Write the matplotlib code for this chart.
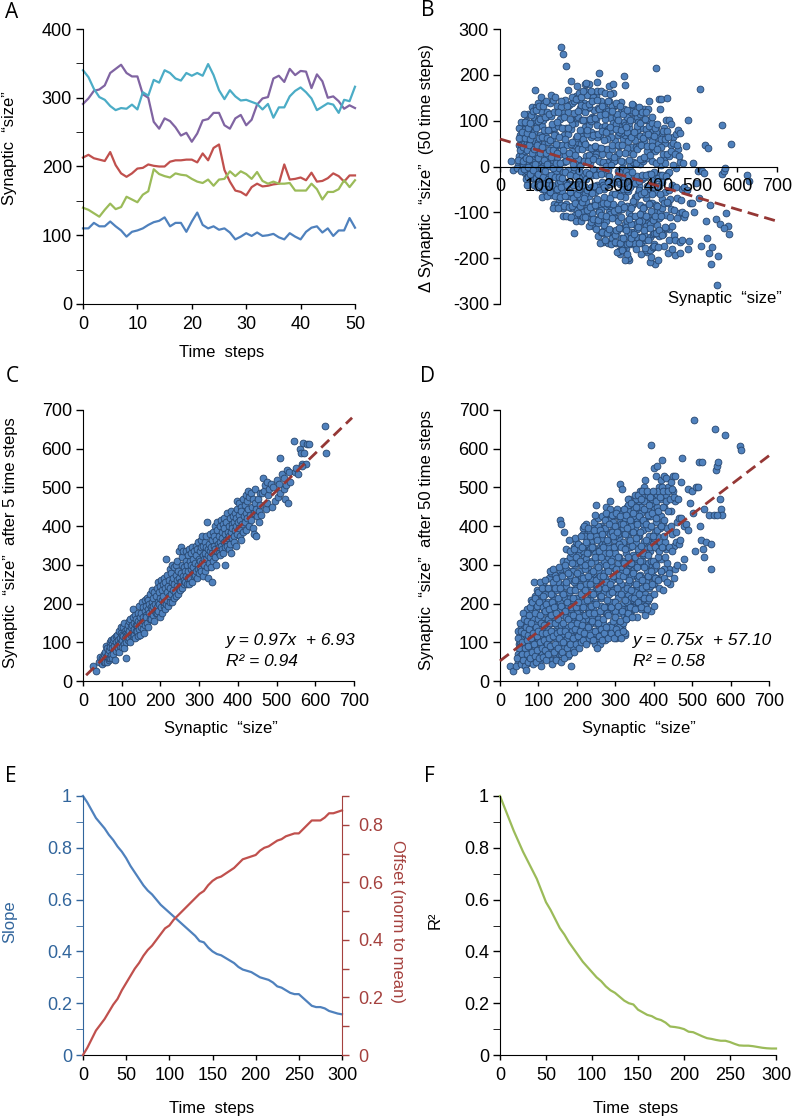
import matplotlib
matplotlib.use("Agg")
import matplotlib.pyplot as plt
from matplotlib.ticker import MultipleLocator

plt.rcParams["font.family"] = ["Liberation Sans", "DejaVu Sans"]
plt.rcParams["font.size"] = 12
plt.rcParams["axes.unicode_minus"] = False

W, H = 793, 1120

# panel A, five example synapses
steps_a = list(range(51))
syn_blue = [110,110,118,113,113,120,113,107,98,105,107,110,115,119,121,126,113,118,118,105,120,133,115,110,113,108,110,104,94,98,103,99,104,99,100,102,97,94,103,98,94,105,111,113,104,110,99,107,107,125,111]
syn_red = [213,217,212,210,208,221,202,190,185,190,197,198,203,201,200,200,207,209,209,210,210,206,219,209,227,232,195,178,165,163,158,170,175,171,172,174,175,203,181,182,184,180,191,178,179,183,190,186,178,187,187]
syn_green = [140,137,132,127,137,146,138,141,156,152,148,159,164,196,189,186,184,190,188,187,182,178,176,181,172,181,182,193,186,193,189,182,192,179,175,178,175,175,176,165,165,165,175,167,152,163,163,167,180,170,180]
syn_purple = [291,299,310,312,318,336,342,348,336,331,331,305,300,265,255,270,266,257,245,249,236,248,267,269,278,278,260,255,270,275,260,268,290,299,301,328,332,323,342,333,339,338,314,334,324,300,302,295,284,289,285]
syn_aqua = [340,330,313,301,297,288,282,285,284,290,283,308,303,326,322,340,336,328,325,336,332,336,332,349,333,311,298,311,302,296,297,294,291,283,291,271,286,286,302,310,315,308,299,282,287,292,290,278,297,295,316]

# panels B, C, D share the same synapses, delta in B is after_50 - start_size
start_size = [
    27,33,42,45,48,50,52,54,55,57,58,60,
    61,62,63,65,66,67,68,69,70,71,72,73,
    74,75,76,77,78,80,81,83,84,85,86,88,
    89,90,91,92,93,94,95,96,97,98,99,100,
    101,102,103,104,105,106,107,108,109,110,111,112,
    113,114,115,116,117,118,119,120,121,122,124,125,
    126,127,128,129,130,131,132,133,134,135,136,137,
    138,139,140,141,142,143,144,145,146,147,148,150,
    151,152,153,154,155,156,157,158,159,160,161,162,
    163,164,165,166,167,168,169,170,171,172,174,175,
    176,177,178,179,180,181,182,183,184,185,186,188,
    189,190,191,192,193,194,195,196,197,198,199,200,
    201,202,203,204,205,206,207,208,209,210,211,212,
    213,214,215,216,217,218,219,220,221,222,224,225,
    226,227,228,229,230,231,232,233,234,235,236,238,
    239,240,241,242,243,244,245,246,247,248,249,250,
    251,252,253,254,255,256,257,258,259,260,261,262,
    263,264,265,266,267,268,269,270,271,272,274,275,
    276,277,278,279,280,281,282,283,284,285,286,288,
    289,290,291,292,293,294,295,296,297,298,299,300,
    301,302,303,304,305,306,307,308,309,310,311,312,
    313,314,315,316,317,318,319,320,321,322,323,324,
    325,326,327,328,329,330,331,332,333,334,335,337,
    338,339,340,341,342,343,344,345,346,347,348,350,
    351,352,353,354,355,356,357,358,359,360,361,362,
    363,364,365,366,367,368,369,370,371,372,374,375,
    376,377,378,379,380,381,382,383,384,385,386,388,
    389,390,391,392,393,394,395,396,397,398,399,400,
    402,403,404,405,406,407,408,409,410,412,414,416,
    418,419,420,421,422,423,424,425,426,428,430,432,
    433,434,436,438,440,441,442,444,445,447,448,450,
    452,454,455,456,458,460,462,465,468,470,472,474,
    475,478,480,485,488,490,495,500,503,505,508,510,
    515,518,520,522,525,528,530,532,535,545,548,550,
    556,560,562,565,568,572,575,578,585,625,628,565,
]
after_50 = [
    40,26,38,60,110,85,150,45,130,70,100,175,
    55,125,160,38,85,140,28,105,70,155,50,120,
    90,170,135,60,190,110,150,75,205,45,125,255,
    95,175,65,215,140,50,195,115,80,160,230,130,
    60,205,100,255,170,40,150,85,240,125,190,62,
    220,105,145,80,260,180,55,125,200,95,160,240,
    70,185,110,285,150,90,225,130,170,45,205,255,
    115,290,75,190,150,240,95,175,55,265,125,215,
    85,160,295,110,415,130,240,50,405,195,270,75,
    150,225,100,385,60,180,300,130,255,340,85,205,
    120,280,160,365,70,235,95,335,190,145,40,305,
    215,110,170,340,75,260,135,235,95,320,190,150,
    280,115,205,355,85,165,245,130,310,375,100,225,
    145,345,105,265,190,400,125,300,170,235,360,95,
    210,330,140,270,395,110,175,375,250,120,305,195,
    345,155,285,105,225,390,175,430,130,320,260,455,
    200,365,85,295,150,240,335,115,390,180,270,135,
    320,220,105,380,160,270,345,190,125,415,240,300,
    140,435,210,365,110,285,170,330,405,250,465,190,
    310,125,230,430,155,375,270,110,345,205,400,165,
    290,435,135,240,385,195,320,125,355,275,425,155,
    510,225,110,345,495,180,405,270,130,445,305,380,
    210,340,160,430,285,395,240,175,320,470,260,365,
    190,415,305,460,235,350,165,280,435,385,215,480,
    320,185,370,250,450,295,405,205,340,480,270,425,
    225,385,310,470,190,350,260,490,415,330,445,215,
    295,520,170,405,245,365,185,490,325,430,270,455,
    215,345,475,285,400,610,250,435,310,490,375,225,
    550,265,345,420,465,300,555,390,260,440,335,475,
    285,520,400,570,345,450,235,490,375,530,320,465,
    525,255,440,490,345,280,470,400,515,335,495,530,
    475,265,290,530,385,300,470,355,365,515,420,575,
    295,315,400,405,495,390,460,490,435,675,335,500,
    500,565,400,365,565,340,445,320,360,430,290,355,
    430,650,545,555,565,470,445,430,635,607,597,430,
]
after_5 = [
    40,27,48,62,45,60,58,50,70,75,50,90,
    48,85,65,70,55,80,60,100,88,60,68,105,
    95,60,85,70,105,90,112,55,78,100,115,90,
    120,85,105,95,75,130,110,90,125,100,140,88,
    120,105,140,115,95,150,85,130,110,125,100,60,
    135,120,105,145,125,110,155,130,100,160,140,120,
    145,125,185,115,165,135,120,150,110,170,130,145,
    160,130,145,115,175,155,135,195,120,165,150,140,
    175,150,205,135,165,190,125,155,210,180,145,170,
    195,165,215,150,185,210,140,175,200,160,225,190,
    160,205,185,235,170,215,195,155,230,180,200,175,
    220,190,240,175,205,255,180,230,200,215,165,245,
    190,260,210,235,175,250,220,195,265,205,240,185,
    255,200,315,230,210,275,245,195,260,220,290,205,
    240,280,225,255,205,300,235,265,215,250,295,230,
    275,220,300,245,310,260,225,285,240,335,265,255,
    235,345,280,255,320,300,240,270,335,250,295,260,
    285,255,310,335,270,250,300,265,325,285,250,340,
    310,265,290,330,300,255,345,280,315,295,270,335,
    305,275,350,285,325,265,340,300,290,360,315,280,
    335,295,310,365,285,345,305,375,270,325,350,315,
    300,360,330,285,345,315,375,295,410,340,325,265,
    355,305,335,380,320,345,295,365,255,330,385,310,
    350,375,320,400,340,300,365,390,335,410,355,330,
    375,345,400,325,360,415,350,385,340,370,405,330,
    395,360,420,345,380,300,365,410,350,435,385,370,
    340,400,375,420,355,385,440,330,405,370,395,425,
    375,410,360,435,390,350,420,400,465,380,445,410,
    430,395,460,375,415,450,365,440,405,470,385,425,
    455,410,480,435,390,465,420,445,490,400,475,430,
    485,415,450,395,470,435,380,460,495,375,445,425,
    470,440,410,485,455,430,485,525,490,505,445,460,
    515,480,495,510,450,500,465,520,475,510,485,575,
    535,495,525,470,505,545,460,540,515,620,540,550,
    535,600,590,560,615,590,560,612,612,658,588,555,
]

# more of the dense cloud, used in B and D only
cloud_start = [
    46,48,49,51,52,53,55,56,58,59,47,54,
    60,61,63,64,65,66,68,69,70,72,73,74,62,67,71,75,
    76,77,78,79,80,81,82,83,84,85,86,87,88,89,90,91,
    92,93,94,95,96,97,98,99,100,101,102,103,104,105,106,107,
    108,109,110,111,112,113,114,115,116,117,118,119,120,121,122,123,
    124,125,126,127,128,129,130,131,132,133,134,135,136,137,138,139,
    140,141,142,143,144,145,146,147,148,149,150,151,152,153,154,155,
    156,157,158,159,160,161,162,163,164,165,166,167,168,169,170,171,
    172,173,174,175,176,177,178,179,180,181,182,183,184,185,186,187,
    188,189,190,191,192,193,194,195,196,197,198,199,200,201,202,203,
    204,205,206,207,208,209,210,211,212,213,214,215,216,217,218,219,
    220,221,222,223,224,225,226,227,228,229,230,231,232,233,234,235,
    236,237,238,239,240,241,242,243,244,245,246,247,248,249,250,251,
    252,253,254,255,256,257,258,259,260,261,262,263,264,265,266,267,
    268,269,270,271,272,273,274,275,276,277,278,279,280,281,282,283,
    284,285,286,287,288,289,290,291,292,293,294,295,296,297,298,299,
    300,301,302,303,304,305,306,307,308,309,310,311,312,313,314,315,
    316,317,318,319,320,321,322,323,324,325,326,327,328,329,330,331,
    332,333,334,335,336,337,338,339,340,341,342,343,344,345,346,347,
    348,349,350,351,352,353,354,355,356,357,358,359,360,361,362,363,
    364,365,366,367,368,369,370,371,372,373,374,375,376,377,378,379,
    380,381,382,383,384,385,386,387,388,389,390,391,392,393,394,396,
    398,400,402,404,406,408,410,412,414,416,418,420,401,405,409,415,
    424,428,432,436,440,444,448,452,456,460,427,435,443,451,459,465,
    180,182,184,186,188,190,192,194,196,198,200,202,204,206,208,210,
    212,214,216,218,220,222,224,226,228,230,232,234,236,238,240,242,
    244,246,248,250,252,254,256,258,260,262,264,266,268,270,272,274,
    276,278,280,282,284,286,288,290,292,294,296,298,300,302,304,306,
    308,310,312,314,316,318,320,322,324,326,328,330,332,334,336,338,
    340,342,344,346,348,350,352,354,356,358,360,362,364,366,368,370,
    372,374,376,378,380,382,384,386,388,390,392,394,396,398,400,402,
    404,406,408,410,412,414,416,418,420,422,424,426,428,430,432,434,
    195,205,215,225,235,245,255,265,275,285,295,305,315,325,335,345,
    355,365,375,385,395,300,310,320,330,340,350,360,370,380,390,400,
    190,200,210,220,230,240,250,260,270,280,290,300,310,320,330,340,
]
cloud_after_50 = [
    50,70,95,120,65,100,140,80,115,60,130,90,
    75,110,145,50,100,165,120,60,185,85,140,70,95,45,130,155,
    50,115,155,80,210,65,130,180,100,160,60,195,110,145,220,85,
    120,70,185,100,235,150,60,205,110,170,80,225,135,55,195,120,
    210,70,160,115,250,90,185,135,60,225,150,100,240,75,175,125,
    95,205,135,265,65,170,240,110,190,85,280,150,55,220,125,175,
    210,130,90,275,165,60,235,110,195,145,80,255,120,180,70,285,
    100,205,145,275,70,170,230,120,310,190,85,250,135,215,105,290,
    165,245,110,310,65,195,140,260,90,320,215,125,285,170,75,235,
    130,285,85,205,345,155,105,300,180,250,120,360,215,95,330,165,
    125,255,330,185,100,285,150,220,350,115,300,170,380,240,140,320,
    205,130,350,265,160,315,115,235,385,185,295,145,340,215,105,270,
    150,360,225,120,310,185,395,270,130,335,205,95,375,155,290,240,
    170,320,110,265,380,140,225,345,95,300,195,400,125,250,355,180,
    150,395,230,310,105,265,355,175,420,135,290,240,385,195,320,115,
    225,380,145,300,420,180,345,260,125,400,205,320,155,365,240,290,
    205,345,120,395,265,150,425,225,305,175,370,130,250,410,290,190,
    250,385,140,310,200,430,170,355,270,120,400,225,330,185,450,290,
    225,375,165,300,440,255,345,195,410,275,180,385,315,235,455,210,
    290,430,235,395,310,200,360,270,440,190,330,410,240,300,375,465,
    275,420,205,345,450,300,235,390,185,325,475,265,360,410,225,300,
    340,445,265,205,395,305,465,240,360,425,275,335,180,480,375,300,
    270,450,360,305,410,480,340,265,430,395,470,315,250,530,375,500,
    410,450,340,500,290,440,380,350,465,410,290,395,250,490,360,420,
    230,275,115,185,330,150,255,100,305,215,345,135,270,190,310,110,
    265,155,335,205,375,120,250,355,175,305,130,385,230,280,165,345,
    200,310,125,375,245,160,400,285,115,340,215,370,130,280,190,395,
    255,175,345,125,415,205,300,140,385,235,430,180,330,110,270,380,
    215,320,135,440,280,185,360,235,125,410,160,305,455,250,345,170,
    270,400,190,325,445,225,300,420,165,375,260,340,215,435,185,310,
    405,250,465,195,330,285,440,210,375,245,425,310,460,355,195,290,
    385,265,450,320,490,240,360,425,285,500,345,265,415,360,480,305,
    370,340,395,405,340,410,420,425,450,445,410,445,405,420,470,425,
    470,490,500,480,470,115,140,150,175,215,230,205,240,255,220,260,
    195,175,270,290,330,260,150,220,330,360,190,375,260,395,205,305,
]

all_start = cloud_start + start_size
all_after_50 = cloud_after_50 + after_50
delta_50 = [b - a for a, b in zip(all_start, all_after_50)]

# dashed fit lines, end points
fit_b_x = [0, 695]
fit_b_y = [60, -118]
fit_c_x = [8, 695]
fit_c_y = [15, 680]
fit_d_x = [0, 700]
fit_d_y = [52, 582]

# panels E, F, one value every 5 steps
steps_long = list(range(0, 301, 5))
slope = [1.0,.975,.945,.915,.895,.875,.85,.83,.805,.785,.76,.73,.705,.68,.655,.635,.62,.60,.58,.565,.55,.535,.52,.505,.49,.475,.46,.44,.435,.415,.40,.39,.385,.375,.365,.355,.34,.33,.325,.32,.31,.30,.295,.29,.28,.265,.26,.25,.24,.235,.235,.22,.205,.19,.185,.185,.18,.17,.165,.16,.157]
offset = [0,.025,.055,.085,.105,.125,.15,.175,.195,.225,.25,.275,.30,.32,.345,.365,.38,.40,.42,.44,.45,.47,.485,.50,.515,.53,.545,.56,.57,.59,.605,.615,.62,.63,.64,.65,.665,.68,.685,.69,.695,.71,.72,.725,.735,.745,.75,.76,.765,.77,.77,.785,.80,.815,.815,.815,.825,.84,.84,.845,.85]
r_squared = [1.0,.955,.91,.865,.825,.785,.75,.715,.68,.635,.59,.56,.525,.49,.465,.435,.41,.385,.36,.34,.32,.30,.285,.265,.25,.24,.225,.21,.2,.195,.175,.165,.155,.15,.14,.135,.125,.11,.108,.105,.1,.09,.088,.08,.072,.065,.062,.058,.055,.055,.05,.043,.037,.036,.036,.034,.031,.028,.026,.025,.025]

BLUE = "#4f81bd"
RED = "#c0504d"
GREEN = "#9bbb59"
PURPLE = "#8064a2"
AQUA = "#4bacc6"
DASH = "#953735"


def axes_px(fig, left, right, top, bottom):
    return fig.add_axes([left / W, 1 - bottom / H, (right - left) / W, (bottom - top) / H])


def label_px(fig, x, y, s, **kw):
    kw.setdefault("ha", "center")
    kw.setdefault("va", "center")
    fig.text(x / W, 1 - y / H, s, **kw)


def clean(ax):
    ax.spines["top"].set_visible(False)
    ax.spines["right"].set_visible(False)
    ax.patch.set_alpha(0)
    ax.tick_params(labelsize=13, width=1)
    ax.tick_params(axis="y", which="both", length=5, pad=3)
    ax.tick_params(axis="x", length=3.5, pad=5)


def scatter_panel(ax, x, y, fit_x, fit_y):
    ax.scatter(x, y, s=24, c=BLUE, edgecolors="#27466e", linewidths=0.6, clip_on=False)
    ax.plot(fit_x, fit_y, color=DASH, lw=2, dashes=(4, 2.2), zorder=3, clip_on=False)


fig = plt.figure(figsize=(W / 100, H / 100), dpi=100, facecolor="white")

# A
ax = axes_px(fig, 83, 355, 29, 304)
for vals, col in [(syn_blue, BLUE), (syn_red, RED), (syn_green, GREEN), (syn_purple, PURPLE), (syn_aqua, AQUA)]:
    ax.plot(steps_a, vals, color=col, lw=1.6, clip_on=False)
ax.set_xlim(0, 50)
ax.set_ylim(0, 400)
ax.xaxis.set_major_locator(MultipleLocator(10))
ax.yaxis.set_major_locator(MultipleLocator(100))
ax.yaxis.set_minor_locator(MultipleLocator(50))
clean(ax)
label_px(fig, 10, 148, "Synaptic  “size”", rotation=90)
label_px(fig, 222, 352, "Time  steps")

# B
ax = axes_px(fig, 500, 777, 29, 304)
scatter_panel(ax, all_start, delta_50, fit_b_x, fit_b_y)
ax.set_xlim(0, 700)
ax.set_ylim(-300, 300)
ax.xaxis.set_major_locator(MultipleLocator(100))
ax.yaxis.set_major_locator(MultipleLocator(100))
clean(ax)
ax.spines["bottom"].set_position(("data", 0))
label_px(fig, 427, 168, "Δ Synaptic  “size”  (50 time steps)", rotation=90)
label_px(fig, 725, 299, "Synaptic  “size”")

# C
ax = axes_px(fig, 83, 354, 410, 681)
scatter_panel(ax, start_size, after_5, fit_c_x, fit_c_y)
ax.set_xlim(0, 700)
ax.set_ylim(0, 700)
ax.xaxis.set_major_locator(MultipleLocator(100))
ax.yaxis.set_major_locator(MultipleLocator(100))
clean(ax)
label_px(fig, 11, 543, "Synaptic  “size”  after 5 time steps", rotation=90)
label_px(fig, 221, 729, "Synaptic  “size”")
label_px(fig, 226, 640, "y = 0.97x  + 6.93", ha="left", style="italic", fontsize=12.5)
label_px(fig, 226, 661, "R² = 0.94", ha="left", style="italic", fontsize=12.5)

# D
ax = axes_px(fig, 500, 769, 410, 681)
scatter_panel(ax, all_start, all_after_50, fit_d_x, fit_d_y)
ax.set_xlim(0, 700)
ax.set_ylim(0, 700)
ax.xaxis.set_major_locator(MultipleLocator(100))
ax.yaxis.set_major_locator(MultipleLocator(100))
clean(ax)
label_px(fig, 427, 540, "Synaptic  “size”  after 50 time steps", rotation=90)
label_px(fig, 639, 729, "Synaptic  “size”")
label_px(fig, 633, 640, "y = 0.75x  + 57.10", ha="left", style="italic", fontsize=12.5)
label_px(fig, 633, 661, "R² = 0.58", ha="left", style="italic", fontsize=12.5)

# E, two y axes
LEFT_C = "#31659c"
RIGHT_C = "#a5413e"
ax = axes_px(fig, 83, 342, 796, 1055)
ax.plot(steps_long, slope, color=BLUE, lw=1.6, clip_on=False)
ax.set_xlim(0, 300)
ax.set_ylim(0, 1)
ax.xaxis.set_major_locator(MultipleLocator(50))
ax.yaxis.set_major_locator(MultipleLocator(0.2))
ax.yaxis.set_minor_locator(MultipleLocator(0.1))
ax.yaxis.set_major_formatter(lambda v, pos: f"{v:g}")
clean(ax)
ax.spines["left"].set_color(LEFT_C)
ax.tick_params(axis="y", which="both", color=LEFT_C, labelcolor=LEFT_C)

ax2 = ax.twinx()
ax2.plot(steps_long, offset, color=RED, lw=1.6, clip_on=False)
ax2.set_ylim(0, 0.9)
ax2.yaxis.set_major_locator(MultipleLocator(0.2))
ax2.yaxis.set_minor_locator(MultipleLocator(0.1))
ax2.yaxis.set_major_formatter(lambda v, pos: f"{v:g}")
ax2.spines["top"].set_visible(False)
ax2.spines["left"].set_visible(False)
ax2.spines["bottom"].set_visible(False)
ax2.spines["right"].set_color(RIGHT_C)
ax2.tick_params(axis="y", which="both", length=5, width=1, color=RIGHT_C, labelcolor=RIGHT_C, labelsize=13, pad=7)
label_px(fig, 10, 922, "Slope", rotation=90, color=LEFT_C)
label_px(fig, 397, 921, "Offset (norm to mean)", rotation=270, color=RIGHT_C)
label_px(fig, 212, 1108, "Time  steps")

# F
ax = axes_px(fig, 500, 776, 796, 1055)
ax.plot(steps_long, r_squared, color=GREEN, lw=1.6, clip_on=False)
ax.set_xlim(0, 300)
ax.set_ylim(0, 1)
ax.xaxis.set_major_locator(MultipleLocator(50))
ax.yaxis.set_major_locator(MultipleLocator(0.2))
ax.yaxis.set_minor_locator(MultipleLocator(0.1))
ax.yaxis.set_major_formatter(lambda v, pos: f"{v:g}")
clean(ax)
label_px(fig, 435, 920, "R²", rotation=90)
label_px(fig, 636, 1108, "Time  steps")

# panel letters
for s, x, y in [("A", 12, 12), ("B", 428, 11), ("C", 12, 377), ("D", 428, 377), ("E", 11, 776), ("F", 429, 776)]:
    label_px(fig, x, y, s, family=["Open Sans", "DejaVu Sans"], fontsize=15)

fig.savefig("out.png", dpi=100)
